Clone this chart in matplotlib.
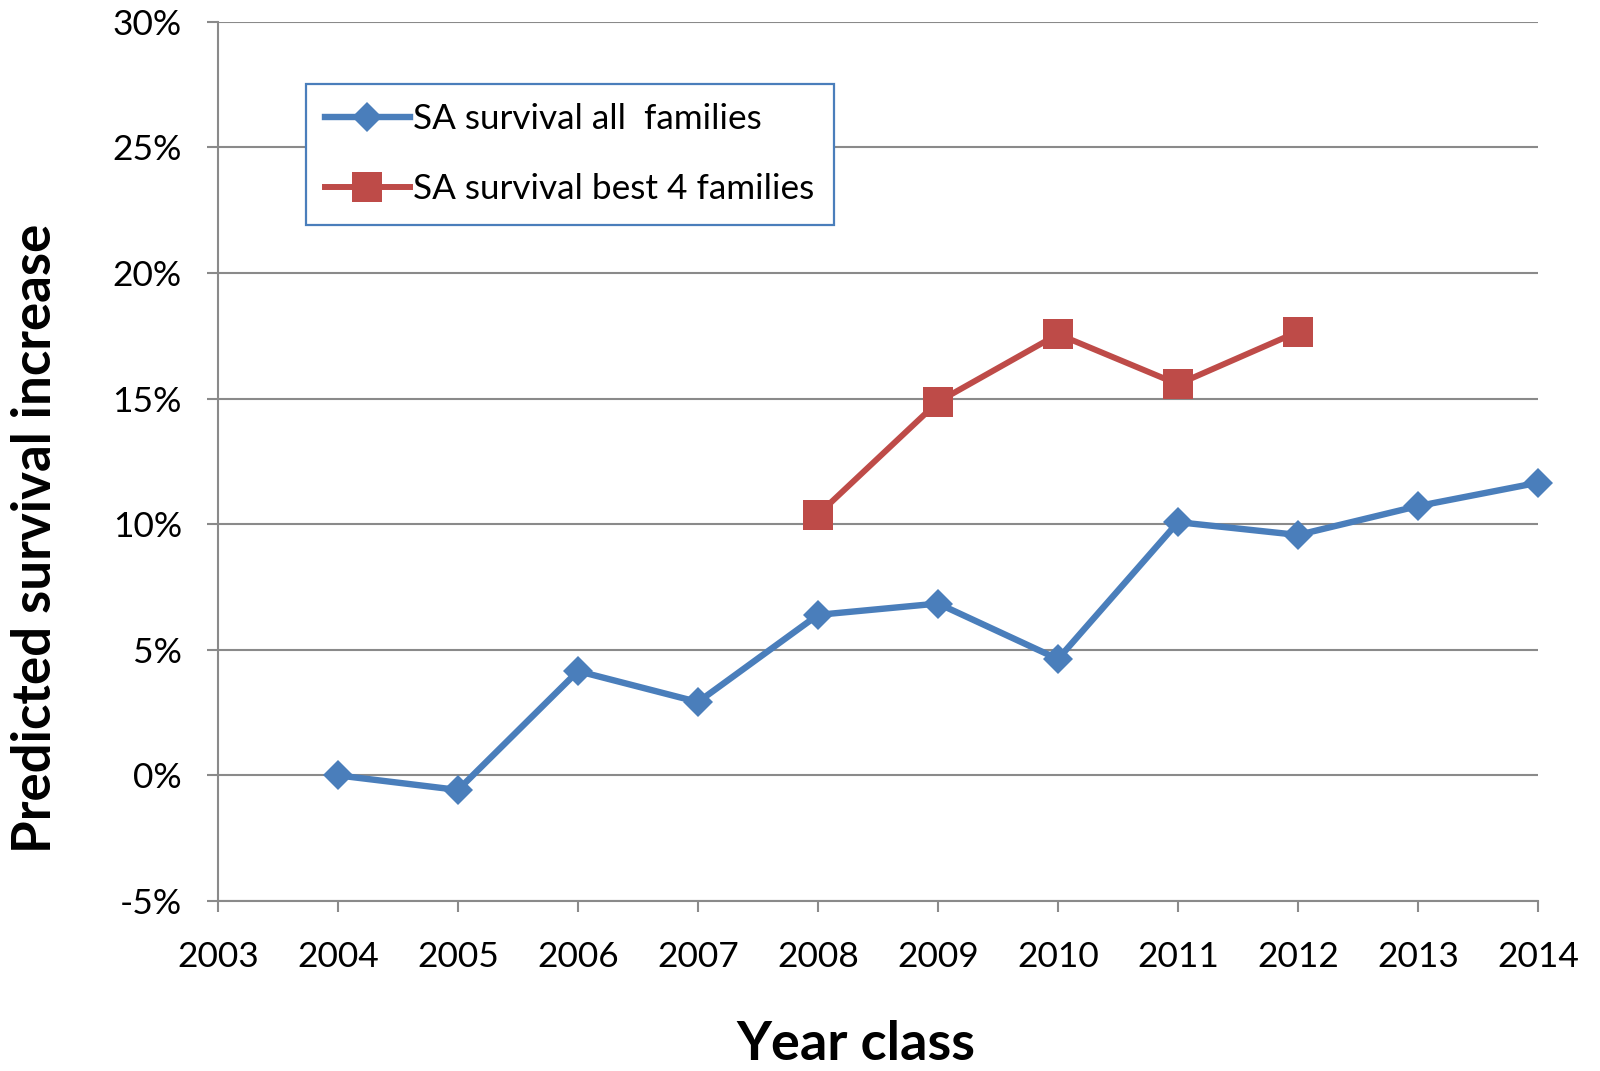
import matplotlib
matplotlib.use("Agg")
import matplotlib.pyplot as plt
from matplotlib.ticker import FuncFormatter, MultipleLocator

# Year classes and predicted survival increase (%)
years_all = [2004, 2005, 2006, 2007, 2008, 2009, 2010, 2011, 2012, 2013, 2014]
survival_all = [0.0, -0.58, 4.15, 2.92, 6.39, 6.84, 4.63, 10.08, 9.57, 10.72, 11.65]

years_best4 = [2008, 2009, 2010, 2011, 2012]
survival_best4 = [10.38, 14.87, 17.56, 15.57, 17.66]

label_all = "SA survival all  families"
label_best4 = "SA survival best 4 families"

plt.rcParams["font.family"] = ["Lato", "DejaVu Sans"]

BLUE = "#4A7EBB"
RED = "#BE4B48"
GRID = "#8A8A8A"

fig = plt.figure(figsize=(16, 10.71), dpi=100)
ax = fig.add_axes([218 / 1600, 1 - 901 / 1071, (1538 - 218) / 1600, (901 - 21.7) / 1071])

ax.plot(years_all, survival_all, color=BLUE, lw=4.6, marker="D", ms=15.5,
        mec=BLUE, mew=0, label=label_all, zorder=3, clip_on=False)
ax.plot(years_best4, survival_best4, color=RED, lw=4.3, marker="s", ms=21,
        mec=RED, mew=0, label=label_best4, zorder=3, clip_on=False)

ax.set_xlim(2003, 2014)
ax.set_ylim(-5, 30)
ax.xaxis.set_major_locator(MultipleLocator(1))
ax.yaxis.set_major_locator(MultipleLocator(5))
ax.yaxis.set_major_formatter(FuncFormatter(lambda v, p: f"{v:.0f}%"))

ax.grid(axis="y", color=GRID, lw=1.5, zorder=0)
ax.set_axisbelow(True)
for side in ("top", "right"):
    ax.spines[side].set_visible(False)
for side in ("left", "bottom"):
    ax.spines[side].set_color(GRID)
    ax.spines[side].set_linewidth(1.5)

ax.tick_params(axis="both", direction="out", length=8, width=1.5, color=GRID,
               labelsize=25.5, labelcolor="black")
ax.tick_params(axis="y", pad=18)
ax.tick_params(axis="x", pad=21)

leg = ax.legend(loc="upper left", bbox_to_anchor=(306 / 1600, 1 - 84 / 1071),
                bbox_transform=fig.transFigure, borderaxespad=0, fontsize=25.3,
                frameon=True, fancybox=False, handlelength=2.4, handletextpad=0.1,
                borderpad=0.55, labelspacing=1.08)
frame = leg.get_frame()
frame.set_edgecolor(BLUE)
frame.set_linewidth(1.6)
frame.set_facecolor("white")
frame.set_alpha(1)

fig.text(36 / 1600, 1 - 538 / 1071, "Predicted survival increase", rotation=90,
         ha="center", va="center", fontsize=38, fontweight="bold")
fig.text(856 / 1600, 1 - 1060 / 1071, "Year class", ha="center", va="baseline",
         fontsize=39, fontweight="bold")

fig.savefig("out.png", dpi=100)
